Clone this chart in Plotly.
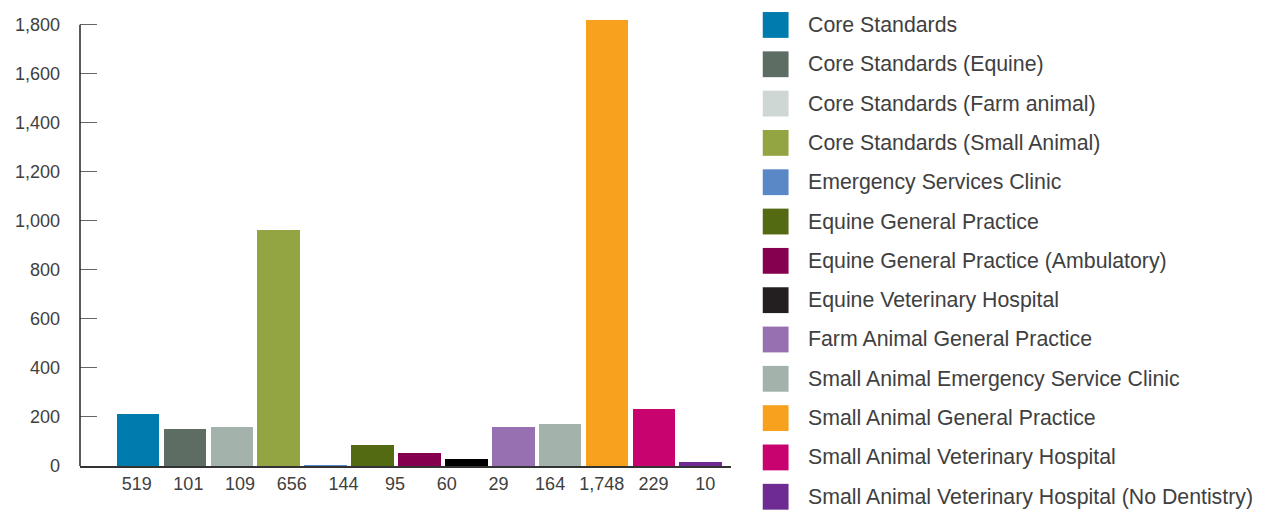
import plotly.graph_objects as go

# ---- data ----
categories = [
    "Core Standards",
    "Core Standards (Equine)",
    "Core Standards (Farm animal)",
    "Core Standards (Small Animal)",
    "Emergency Services Clinic",
    "Equine General Practice",
    "Equine General Practice (Ambulatory)",
    "Equine Veterinary Hospital",
    "Farm Animal General Practice",
    "Small Animal Emergency Service Clinic",
    "Small Animal General Practice",
    "Small Animal Veterinary Hospital",
    "Small Animal Veterinary Hospital (No Dentistry)",
]
values = [212, 151, 160, 965, 4, 86, 55, 30, 160, 171, 1820, 232, 15]
tick_labels = ["519", "101", "109", "656", "144", "95", "60", "29", "164", "1,748", "229", "10"]

bar_colors = ["#007BAD", "#5E6D63", "#A4B2AC", "#93A542", "#5A88C6", "#546A12",
              "#85004F", "#000000", "#9670B0", "#A4B2AC", "#F7A11E", "#C8026E", "#6E2B91"]
legend_colors = ["#007BAD", "#5E6D63", "#CED7D3", "#93A542", "#5A88C6", "#546A12",
                 "#85004F", "#231F20", "#9670B0", "#A4B2AC", "#F7A11E", "#C8026E", "#6E2B91"]

# ---- layout geometry (page body adds an 8px margin) ----
W, H = 1255, 502
ML, MR, MT, MB = 67, 532, 7, 44
PW, PH = W - ML - MR, H - MT - MB
FONT = "Liberation Sans, Arial, sans-serif"
TXT = "#404040"

x_pos = list(range(len(categories)))
x_range = [-1.238, 12.645]
y_range = [0, 1828]

# tick labels spread evenly over their own slots
lab_start, lab_end = -0.58, x_range[1]
step = (lab_end - lab_start) / len(tick_labels)
tick_vals = [lab_start + (i + 0.5) * step for i in range(len(tick_labels))]

fig = go.Figure()
fig.add_trace(go.Bar(
    x=x_pos, y=values, width=0.91,
    marker=dict(color=bar_colors, line=dict(width=0)),
    hovertext=categories, hoverinfo="text+y",
    showlegend=False,
))

shapes = []
annotations = []
# y axis line up to 1800
shapes.append(dict(type="line", xref="paper", yref="y", x0=0, x1=0, y0=0, y1=1800,
                   line=dict(color="#222222", width=1.5)))

# manual legend
sw_x0, sw_size, row0_top, pitch, text_x = 755, 26, 1, 39.58, 799
def px_x(px):
    return (px - ML) / PW
def px_y(py):
    return (H - MB - py) / PH
for i, (name, col) in enumerate(zip(categories, legend_colors)):
    top = row0_top + i * pitch
    shapes.append(dict(type="rect", xref="paper", yref="paper",
                       x0=px_x(sw_x0), x1=px_x(sw_x0 + sw_size),
                       y0=px_y(top + sw_size), y1=px_y(top),
                       fillcolor=col, line=dict(width=0)))
    annotations.append(dict(xref="paper", yref="paper", x=px_x(text_x), y=px_y(top + sw_size / 2),
                            text=name, showarrow=False, xanchor="left", yanchor="middle",
                            font=dict(family=FONT, size=21.3, color=TXT)))

fig.update_layout(
    width=W, height=H,
    margin=dict(l=ML, r=MR, t=MT, b=MB, pad=0),
    paper_bgcolor="white", plot_bgcolor="white",
    font=dict(family=FONT, size=18, color=TXT),
    shapes=shapes, annotations=annotations,
    bargap=0,
    xaxis=dict(range=x_range, showgrid=False, zeroline=False, showline=True,
               linecolor="#333333", linewidth=1.5, ticks="",
               tickmode="array", tickvals=tick_vals, ticktext=tick_labels,
               tickfont=dict(size=18, color=TXT), ticklabelstandoff=1, fixedrange=True),
    yaxis=dict(range=y_range, showgrid=False, zeroline=False, showline=False,
               tickmode="array", tickvals=list(range(0, 1801, 200)),
               ticktext=[f"{v:,}" for v in range(0, 1801, 200)],
               ticks="inside", ticklen=17, tickcolor="#666666", tickwidth=1,
               tickfont=dict(size=18, color=TXT), ticklabelstandoff=19, fixedrange=True),
)

fig.write_html("out.html")
